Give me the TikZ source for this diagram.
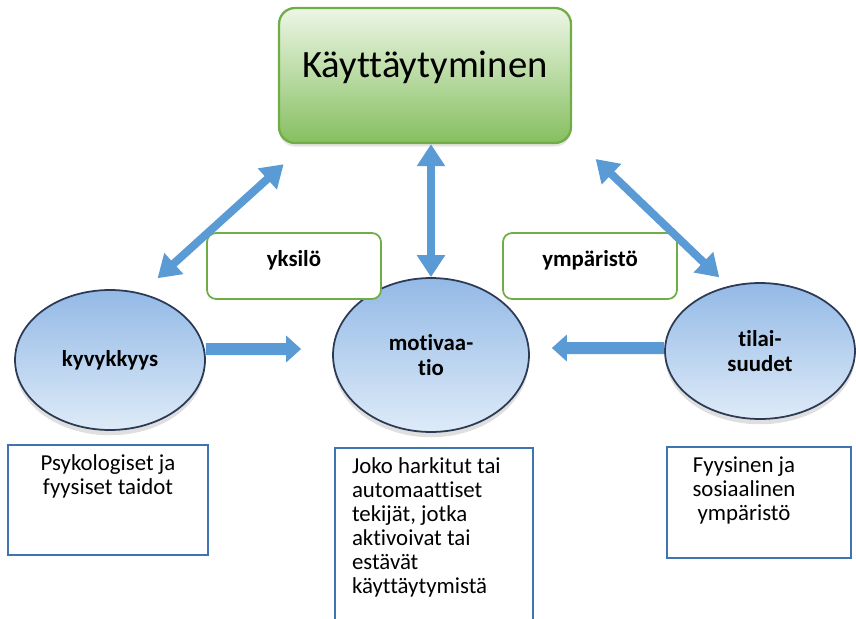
\documentclass[tikz,border=0pt]{standalone}
\usepackage{xcolor}
\usepackage{fontspec}
\setmainfont{Carlito}[Ligatures=NoCommon]
\usepackage{tikz}
\usetikzlibrary{arrows.meta,shapes.geometric,shadows,positioning}

\definecolor{arrowblue}{HTML}{5B9BD5}
\definecolor{ellipsetop}{HTML}{93B9E6}
\definecolor{ellipsebot}{HTML}{DEEBF8}
\definecolor{ellipseline}{HTML}{2C3A55}
\definecolor{greenline}{HTML}{70AD47}
\definecolor{greentop}{HTML}{EDF6E6}
\definecolor{greenbot}{HTML}{86BF60}
\definecolor{boxblue}{HTML}{3E75B0}

\begin{document}
\begin{tikzpicture}[x=0.02cm,y=-0.02cm,
    factor/.style={ellipse,draw=ellipseline,line width=1pt,top color=ellipsetop,bottom color=ellipsebot,inner sep=0pt,align=center,font=\fontsize{13}{14}\selectfont\bfseries,drop shadow={shadow xshift=0pt,shadow yshift=-3pt,opacity=0.25}},
    sidebox/.style={draw=greenline,line width=1pt,rounded corners=0.18cm,fill=white,minimum width=3.48cm,minimum height=1.32cm,text depth=0.3cm,font=\fontsize{13}{14}\selectfont\bfseries},
    descbox/.style={draw=boxblue,line width=1.6pt,inner sep=0.2cm,font=\fontsize{13}{13.6}\selectfont},
    twoway/.style={arrowblue,line width=0.16cm,{Triangle[width=0.54cm,length=0.44cm]}-{Triangle[width=0.54cm,length=0.44cm]}},
    oneway/.style={arrowblue,line width=0.24cm,-{Triangle[width=0.52cm,length=0.3cm]}}]

    \useasboundingbox (0,0) rectangle (856,619);

    % main box
    \node (beh) [draw=greenline,line width=1.3pt,rounded corners=0.32cm,top color=greentop,bottom color=greenbot,
        minimum width=5.84cm,minimum height=2.7cm,text depth=0.45cm,font=\fontsize{22}{26}\selectfont,
        drop shadow={shadow xshift=0pt,shadow yshift=-2pt,opacity=0.2}] at (425,75.5) {Käyttäytyminen};

    % the three factors
    \node (kyv) [factor,minimum width=3.8cm,minimum height=2.8cm] at (110,360) {kyvykkyys};
    \node (mot) [factor,minimum width=3.92cm,minimum height=3.08cm] at (431,355) {motivaa-\\tio};
    \node (til) [factor,minimum width=3.8cm,minimum height=2.72cm] at (760,351) {tilai-\\suudet};

    \node (yks) [sidebox] at (294,266) {yksilö};
    \node (ymp) [sidebox] at (590,266) {ympäristö};

    % descriptions
    \node (psy) [descbox] at (108,500)
        {\parbox[c][1.8cm][t]{3.6cm}{\centering Psykologiset ja\\fyysiset taidot}};
    \node (joko) [descbox,inner xsep=0.34cm] at (434,539)
        {\parbox[c][3.24cm][t]{3.28cm}{\raggedright Joko harkitut tai\\automaattiset\\tekijät, jotka\\aktivoivat tai\\estävät\\käyttäytymistä}};
    \node (fyy) [descbox] at (759,502.5)
        {\parbox[c][1.82cm][t]{2.68cm}{\centering Fyysinen ja\\sosiaalinen\\ympäristö}\rule{0.6cm}{0pt}};

    % arrows
    \draw[twoway,shorten <=0.44cm,shorten >=0.6cm] (kyv.65) -- ([xshift=0.56cm]beh.south west);
    \draw[twoway] (mot.north) -- (mot.north |- beh.south);
    \draw[twoway,shorten <=0.43cm,shorten >=0.25cm] ([xshift=0.16cm]beh.south east) -- (til.116);
    \draw[oneway,shorten >=0.62cm] ([yshift=0.22cm]kyv.east) -- ([yshift=0.12cm]mot.west);
    \draw[oneway,shorten >=0.44cm] ([yshift=0.06cm]til.west) -- ([yshift=0.14cm]mot.east);

\end{tikzpicture}
\end{document}
